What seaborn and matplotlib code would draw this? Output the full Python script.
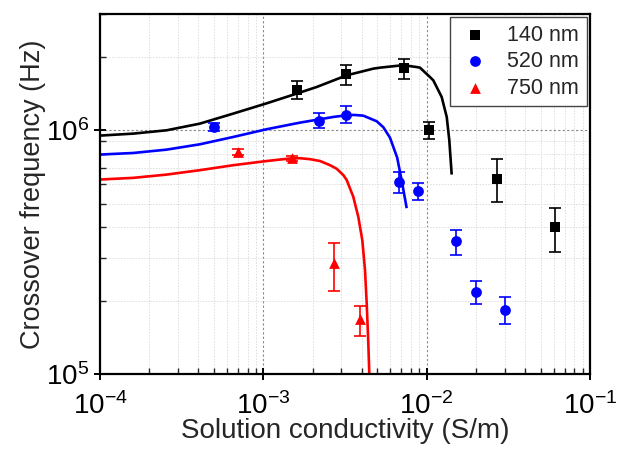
import matplotlib
matplotlib.use("Agg")
import matplotlib.pyplot as plt
import matplotlib.ticker as mticker
import numpy as np
import pandas as pd
import seaborn as sns

# ---- measured data points ----
x140 = [1.6e-3, 3.2e-3, 7.3e-3, 1.03e-2, 2.7e-2, 6.1e-2]
y140 = [1.46e6, 1.70e6, 1.80e6, 1.00e6, 6.3e5, 4.0e5]
lo140 = [1.34e6, 1.53e6, 1.63e6, 0.92e6, 5.07e5, 3.17e5]
hi140 = [1.59e6, 1.86e6, 1.97e6, 1.08e6, 7.6e5, 4.81e5]

x520 = [5.0e-4, 2.2e-3, 3.2e-3, 6.75e-3, 8.8e-3, 1.52e-2, 2.0e-2, 3.0e-2]
y520 = [1.03e6, 1.09e6, 1.16e6, 6.14e5, 5.64e5, 3.5e5, 2.16e5, 1.83e5]
lo520 = [0.99e6, 1.02e6, 1.07e6, 5.53e5, 5.19e5, 3.08e5, 1.94e5, 1.6e5]
hi520 = [1.07e6, 1.18e6, 1.26e6, 6.75e5, 6.1e5, 3.89e5, 2.4e5, 2.07e5]

x750 = [7.0e-4, 1.5e-3, 2.72e-3, 3.9e-3]
y750 = [8.15e5, 7.68e5, 2.85e5, 1.68e5]
lo750 = [7.95e5, 7.5e5, 2.2e5, 1.43e5]
hi750 = [8.35e5, 7.86e5, 3.44e5, 1.9e5]

# ---- fitted curves ----
cx140 = [1.0e-4, 1.6e-4, 2.56e-4, 4.09e-4, 6.55e-4, 1.048e-3, 1.6e-3, 2.12e-3,
         3.24e-3, 4.71e-3, 5.18e-3, 7.2e-3, 8.69e-3, 9.1e-3, 1.048e-2,
         1.098e-2, 1.236e-2, 1.327e-2, 1.376e-2, 1.423e-2]
cy140 = [9.51e5, 9.69e5, 1.0e6, 1.065e6, 1.171e6, 1.29e6, 1.414e6, 1.505e6,
         1.681e6, 1.79e6, 1.807e6, 1.85e6, 1.817e6, 1.807e6, 1.653e6,
         1.603e6, 1.369e6, 1.134e6, 9.1e5, 6.58e5]

cx520 = [1.0e-4, 1.6e-4, 2.56e-4, 4.09e-4, 6.55e-4, 1.048e-3, 1.677e-3,
         2.223e-3, 2.7e-3, 3.239e-3, 3.6e-3, 4.093e-3, 4.944e-3, 5.43e-3,
         5.965e-3, 6.6e-3, 7.08e-3, 7.546e-3]
cy520 = [7.95e5, 8.07e5, 8.33e5, 8.76e5, 9.39e5, 1.01e6, 1.075e6,
         1.11e6, 1.135e6, 1.152e6, 1.156e6, 1.148e6, 1.089e6, 1.029e6,
         9.32e5, 7.72e5, 6.07e5, 4.79e5]

cx750 = [1.0e-4, 1.6e-4, 2.56e-4, 4.09e-4, 6.55e-4, 1.048e-3, 1.456e-3, 1.677e-3,
         1.931e-3, 2.223e-3, 2.56e-3, 2.813e-3, 3.088e-3, 3.239e-3, 3.555e-3,
         3.815e-3, 4.036e-3, 4.192e-3, 4.294e-3, 4.392e-3, 4.46e-3]
cy750 = [6.28e5, 6.38e5, 6.58e5, 6.86e5, 7.19e5, 7.48e5, 7.66e5, 7.68e5,
         7.61e5, 7.48e5, 7.19e5, 6.95e5, 6.55e5, 6.25e5, 5.33e5,
         4.41e5, 3.54e5, 2.67e5, 1.95e5, 1.34e5, 9.8e4]

labels = ["140 nm", "520 nm", "750 nm"]
colors = ["#000000", "#0000ff", "#ff0000"]
markers = ["s", "o", "^"]

sns.set_theme(style="white")
plt.rcParams["font.family"] = ["Liberation Sans", "DejaVu Sans"]
plt.rcParams["mathtext.fontset"] = "custom"
plt.rcParams["mathtext.rm"] = "Liberation Sans"
plt.rcParams["mathtext.it"] = "Liberation Sans:italic"
plt.rcParams["mathtext.bf"] = "Liberation Sans:bold"

fig = plt.figure(figsize=(6.2, 4.5), dpi=100)
ax = fig.add_axes([0.1613, 0.1689, 0.7903, 0.80])

series = [
    (x140, y140, lo140, hi140, cx140, cy140),
    (x520, y520, lo520, hi520, cx520, cy520),
    (x750, y750, lo750, hi750, cx750, cy750),
]

for (xs, ys, lo, hi, cx, cy), lab, col, mk in zip(series, labels, colors, markers):
    cdf = pd.DataFrame({"x": cx, "y": cy})
    sns.lineplot(data=cdf, x="x", y="y", color=col, lw=1.9, ax=ax,
                 legend=False, sort=False, zorder=2,
                 solid_joinstyle="round", solid_capstyle="butt")
    ys_a = np.array(ys)
    yerr = [ys_a - np.array(lo), np.array(hi) - ys_a]
    ax.errorbar(xs, ys, yerr=yerr, fmt="none", ecolor=col, elinewidth=1.2,
                capsize=4, capthick=1.2, zorder=3)
    pdf = pd.DataFrame({"x": xs, "y": ys, "series": lab})
    sns.scatterplot(data=pdf, x="x", y="y", marker=mk, color=col, s=60,
                    edgecolor=col, linewidth=0, ax=ax, label=lab, zorder=4)

ax.set_xscale("log")
ax.set_yscale("log")
ax.set_xlim(1e-4, 1e-1)
ax.set_ylim(1e5, 3e6)

ax.xaxis.set_major_locator(mticker.LogLocator(base=10, numticks=10))
ax.yaxis.set_major_locator(mticker.LogLocator(base=10, numticks=10))
ax.xaxis.set_minor_locator(mticker.LogLocator(base=10, subs=np.arange(2, 10), numticks=20))
ax.yaxis.set_minor_locator(mticker.LogLocator(base=10, subs=np.arange(2, 10), numticks=20))
ax.xaxis.set_minor_formatter(mticker.NullFormatter())
ax.yaxis.set_minor_formatter(mticker.NullFormatter())

ax.grid(True, which="major", color="#888888", linestyle=(0, (2, 2)), linewidth=0.8)
ax.grid(True, which="minor", color="#dddddd", linestyle=(0, (1.5, 1.5)), linewidth=0.7)
ax.set_axisbelow(True)

for sp in ax.spines.values():
    sp.set_linewidth(1.6)
    sp.set_color("black")

ax.tick_params(axis="x", which="major", pad=9)
ax.tick_params(axis="y", which="major", pad=4)
ax.tick_params(which="major", direction="inout", length=8, width=1.4,
               labelsize=20, colors="black", bottom=True, left=True, top=False, right=False)
ax.tick_params(which="minor", direction="in", length=4, width=1.0,
               bottom=True, left=True, top=False, right=False)

ax.set_xlabel("Solution conductivity (S/m)", fontsize=20, labelpad=-1)
ax.set_ylabel("Crossover frequency (Hz)", fontsize=19.5, labelpad=0)

leg = ax.legend(loc="upper right", fontsize=15.5, frameon=True, fancybox=False,
                edgecolor="#444444", framealpha=1, borderpad=0.35,
                handletextpad=0.7, labelspacing=0.25, handlelength=1.6,
                borderaxespad=0.15)
leg.get_frame().set_linewidth(1.0)

fig.savefig("out.png", dpi=100)
